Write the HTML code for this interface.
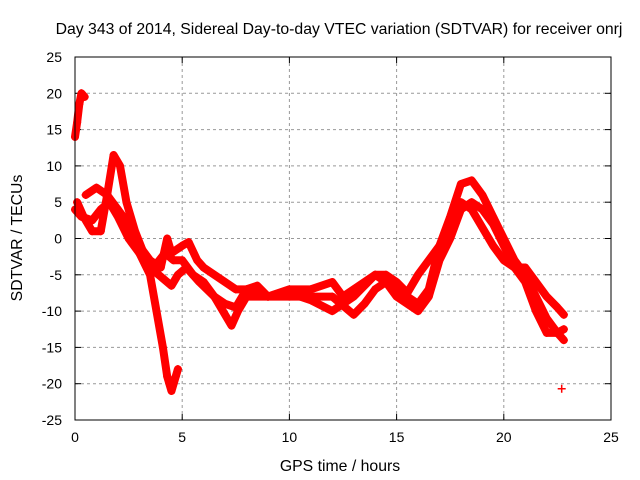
<!DOCTYPE html>
<html><head><meta charset="utf-8"><style>
body{margin:0;background:#fff;}
svg{display:block;font-family:"Liberation Sans",sans-serif;}
</style></head><body>
<svg id="chart" width="640" height="480">
<text x="339" y="34" font-size="15.8" text-anchor="middle">Day 343 of 2014, Sidereal Day-to-day VTEC variation (SDTVAR) for receiver onrj</text>
<text x="340" y="471" font-size="15.8" text-anchor="middle">GPS time / hours</text>
<text transform="translate(22,238) rotate(-90)" font-size="15.8" text-anchor="middle">SDTVAR / TECUs</text>
<g id="grid"></g><g id="marks"></g>
<rect x="75" y="57" width="536" height="363" fill="none" stroke="#000"/>
</svg>
<script>
const xTicks=[0,5,10,15,20,25];
const yTicks=[25,20,15,10,5,0,-5,-10,-15,-20,-25];
const seriesA=[[0.0,14],[0.1,16],[0.2,18.5],[0.3,20],[0.45,19.5]];
const seriesB=[[0,4],[0.3,3],[0.8,2.5],[1.2,4],[1.6,5],[2,3],[2.5,0],[3,-2],[3.5,-5],[3.8,-10],[4.1,-15],[4.3,-19],[4.5,-21],[4.7,-19],[4.8,-18]];
const seriesC=[[0.1,5],[0.4,3],[0.8,1],[1.2,1],[1.5,6],[1.8,11.5],[2.1,10],[2.4,5],[2.8,1],[3.2,-2],[3.5,-4],[3.8,-3.5],[4.2,-2],[4.6,-3],[5,-3],[5.5,-5],[6,-6],[6.5,-8],[7,-9],[7.5,-9.5],[8,-7],[9,-8],[10,-7.5],[11,-8.5],[12,-10],[12.5,-9],[13,-8],[14,-5],[14.5,-6],[15,-8],[15.5,-9],[16,-10],[16.5,-8],[17,-3],[17.5,0],[18,4],[18.5,5],[19,4],[19.5,2],[20,-1],[20.5,-4],[21,-6],[21.5,-10],[22,-13],[22.5,-13],[22.8,-12.5]];
const seriesD=[[0.5,6],[1,7],[1.5,6],[2,4],[2.5,2],[3,-1],[3.5,-3],[4,-4],[4.3,0],[4.5,-2],[5,-1],[5.3,-0.5],[5.7,-3],[6,-4],[6.5,-5],[7,-6],[7.5,-7],[8,-7],[8.5,-6.5],[9,-8],[10,-7],[11,-7],[12,-6],[12.5,-8],[13,-7],[13.5,-6],[14,-5],[14.5,-5],[15,-6],[15.5,-7.5],[16,-5],[16.5,-3],[17,-1],[17.5,3],[18,7.5],[18.5,8],[19,6],[19.5,3],[20,0],[20.5,-3],[21,-5],[21.5,-8],[22,-11],[22.5,-13],[22.8,-14]];
const seriesE=[[1.5,5],[2,4],[2.5,1],[3,-2],[3.5,-4],[4.5,-6.5],[4.8,-5],[5.2,-4],[5.8,-6],[6.5,-8],[7,-10.5],[7.3,-12],[7.6,-10],[8,-8],[9,-8],[10,-8],[11,-8],[12,-8],[13,-10.5],[13.5,-9],[14,-7],[14.5,-6],[15,-6.5],[15.5,-8],[16,-9],[16.5,-7],[17,-1],[17.5,2],[18,5],[18.5,4],[19,1.5],[19.5,-1],[20,-3],[20.5,-4],[21,-4],[21.5,-6],[22,-8],[22.5,-9.5],[22.8,-10.5]];
const seriesF=[[22.7,-20.7]];
const X=v=>75+v*(536/25), Y=v=>238.5-v*(363/50);
const NS="http://www.w3.org/2000/svg";
const grid=document.getElementById('grid'), marks=document.getElementById('marks');
function mk(tag,attrs,parent){const e=document.createElementNS(NS,tag);for(const k in attrs)e.setAttribute(k,attrs[k]);parent.appendChild(e);return e;}
xTicks.forEach(t=>{const x=X(t);
 if(t>0&&t<25){const l=mk('line',{x1:x,x2:x,y1:57,y2:420,stroke:'#999','stroke-dasharray':'3,3'},grid);
 
 }
 mk('line',{x1:x,x2:x,y1:420,y2:414,stroke:'#000'},grid);mk('line',{x1:x,x2:x,y1:57,y2:63,stroke:'#000'},grid);
 const tx=mk('text',{x:x,y:442,'font-size':14,'text-anchor':'middle'},grid);tx.textContent=t;
 
 });
yTicks.forEach(t=>{const y=Y(t);
 if(t>-25&&t<25){const l=mk('line',{x1:75,x2:611,y1:y,y2:y,stroke:'#999','stroke-dasharray':'3,3'},grid);
 
 }
 mk('line',{x1:75,x2:81,y1:y,y2:y,stroke:'#000'},grid);mk('line',{x1:611,x2:605,y1:y,y2:y,stroke:'#000'},grid);
 const tx=mk('text',{x:62,y:y+5,'font-size':14,'text-anchor':'end'},grid);tx.textContent=t;
 
 });
[seriesA,seriesB,seriesC,seriesD,seriesE,seriesF].forEach(s=>{
 const g=mk('g',{},marks);
 
 
 if(s.length>1){const p=mk('polyline',{points:s.map(d=>X(d[0])+','+Y(d[1])).join(' '),fill:'none',stroke:'#f00','stroke-width':8,'stroke-linejoin':'round','stroke-linecap':'round'},g);
 
 }
 s.forEach(d=>{const x=X(d[0]),y=Y(d[1]);
  const m=mk('path',{d:`M${x-4},${y}H${x+4}M${x},${y-4}V${y+4}`,stroke:'#f00','stroke-width':1.5},g);
  
  });
});
</script>
</body></html>
